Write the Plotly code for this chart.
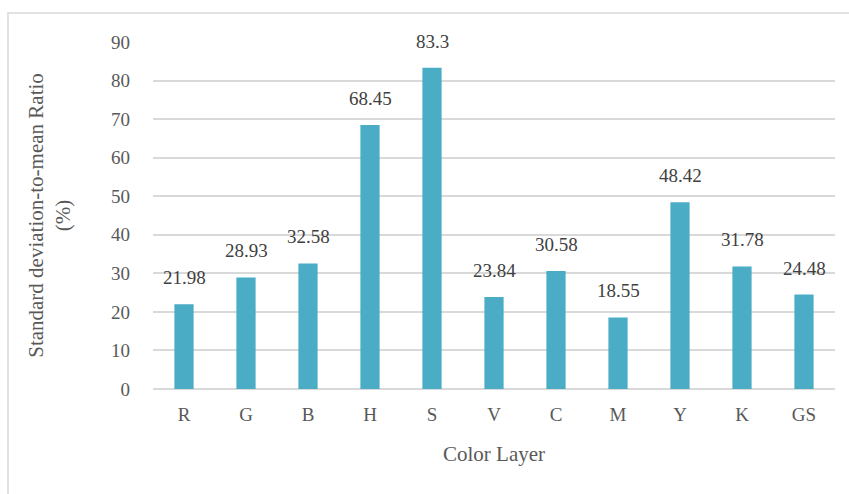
import plotly.graph_objects as go

layers = ["R", "G", "B", "H", "S", "V", "C", "M", "Y", "K", "GS"]
ratios = [21.98, 28.93, 32.58, 68.45, 83.3, 23.84, 30.58, 18.55, 48.42, 31.78, 24.48]
y_ticks = [0, 10, 20, 30, 40, 50, 60, 70, 80, 90]

W, H = 849, 494
L, R, T, B = 153, 14, 42, 105
pw, ph = W - L - R, H - T - B

serif = "Liberation Serif"
bar_color = "#4BACC6"
grid_color = "#D9D9D9"

fig = go.Figure(
    go.Bar(
        x=layers,
        y=ratios,
        marker=dict(color=bar_color, line=dict(width=0)),
        width=0.31,
        showlegend=False,
    )
)

# value labels above each bar
for name, val in zip(layers, ratios):
    fig.add_annotation(
        x=name, y=val, text=f"{val:g}", showarrow=False,
        yanchor="bottom", yshift=14,
        font=dict(family=serif, size=19, color="#404040"),
    )

# chart frame
fig.add_shape(
    type="rect", xref="paper", yref="paper",
    x0=(8 - L) / pw, x1=1.2, y0=-0.6, y1=1 + (T - 13) / ph,
    line=dict(color=grid_color, width=1.5), fillcolor="rgba(0,0,0,0)", layer="below",
)

fig.update_layout(
    width=W, height=H,
    margin=dict(l=L, r=R, t=T, b=B),
    paper_bgcolor="white", plot_bgcolor="white",
    font=dict(family=serif, color="#595959"),
    xaxis=dict(
        type="category", showgrid=False, showline=False, ticks="",
        ticklabelstandoff=12,
        tickfont=dict(family=serif, size=19, color="#595959"),
        title=dict(text="Color Layer", font=dict(family=serif, size=21, color="#595959"), standoff=22),
    ),
    yaxis=dict(
        range=[0, 90], tickvals=y_ticks, showgrid=True, gridcolor=grid_color, gridwidth=1.5,
        zeroline=True, zerolinecolor=grid_color, zerolinewidth=1.5,
        showline=False, ticks="", ticklabelstandoff=22,
        tickfont=dict(family=serif, size=19, color="#595959"),
        title=dict(text="Standard deviation-to-mean Ratio<br>(%)",
                   font=dict(family=serif, size=21, color="#595959"), standoff=34),
    ),
)

fig.write_html("out.html")
